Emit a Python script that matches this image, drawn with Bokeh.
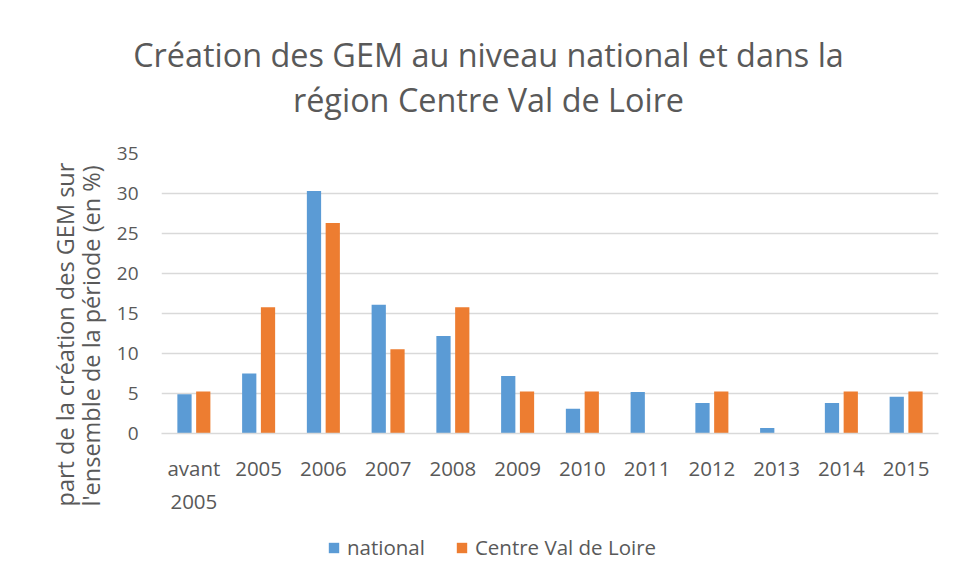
from bokeh.plotting import figure
from bokeh.layouts import column, row
from bokeh.models import Range1d, FixedTicker, Legend, LegendItem, ColumnDataSource, Label, Title
from bokeh.embed import file_html
from bokeh.resources import INLINE

categories = ["avant\n2005", "2005", "2006", "2007", "2008", "2009", "2010",
              "2011", "2012", "2013", "2014", "2015"]
national = [4.9, 7.5, 30.3, 16.1, 12.2, 7.2, 3.1, 5.2, 3.8, 0.7, 3.8, 4.6]
centre_val_de_loire = [5.26, 15.79, 26.32, 10.53, 15.79, 5.26, 5.26, 0.0, 5.26, 0.0, 5.26, 5.26]
y_ticks = [0, 5, 10, 15, 20, 25, 30, 35]
series_names = ["national", "Centre Val de Loire"]
title_lines = ["Création des GEM au niveau national et dans la", "région Centre Val de Loire"]
y_title_lines = ["part de la création des GEM sur", "l'ensemble de la période (en %)"]

BLUE = "#5B9BD5"
ORANGE = "#ED7D31"
TXT = "#595959"
GRID = "#D9D9D9"
FONT = "Open Sans"


def blank(w, h, left=0, right=0, top=0, bottom=0):
    f = figure(width=w, height=h, output_backend="svg", toolbar_location=None,
               x_range=Range1d(0, 1), y_range=Range1d(100, 101),
               x_axis_location=None, y_axis_location=None,
               min_border=0, min_border_left=left, min_border_right=right,
               min_border_top=top, min_border_bottom=bottom)
    f.xgrid.visible = False
    f.ygrid.visible = False
    f.outline_line_color = None
    f.background_fill_color = "white"
    f.border_fill_color = "white"
    return f


idx = list(range(len(categories)))
src = ColumnDataSource(dict(
    xn=[i - 0.145 for i in idx], xc=[i + 0.145 for i in idx],
    n=national, c=centre_val_de_loire))

# ---------------- title strip ----------------
title_fig = blank(948, 135)
for t, yy in zip(title_lines, [82, 37]):
    title_fig.add_layout(Label(x=488, y=yy, x_units="screen", y_units="screen", text=t,
                               text_align="center", text_baseline="alphabetic",
                               text_font=FONT, text_font_size="32.4px", text_color=TXT))

# ---------------- y-axis title strip ----------------
ytitle_fig = blank(110, 390, left=107, bottom=6)
ytitle_fig.add_layout(Title(text="\n".join(y_title_lines), align="left", offset=-73,
                            vertical_align="bottom", standoff=0,
                            text_font=FONT, text_font_size="23.5px",
                            text_font_style="normal", text_color=TXT,
                            text_line_height=0.83), "left")

# ---------------- main chart ----------------
p = figure(width=838, height=390, output_backend="svg", toolbar_location=None,
           x_range=Range1d(-0.5, len(categories) - 0.5), y_range=Range1d(0, 35),
           min_border_left=51, min_border_right=10, min_border_top=18, min_border_bottom=92)
p.outline_line_color = None
p.background_fill_color = "white"
p.border_fill_color = "white"

p.vbar(x="xn", top="n", bottom=0, width=0.22, source=src, fill_color=BLUE, line_color=None)
p.vbar(x="xc", top="c", bottom=0, width=0.22, source=src, fill_color=ORANGE, line_color=None)

p.yaxis.ticker = FixedTicker(ticks=y_ticks)
p.yaxis.axis_line_color = None
p.yaxis.major_tick_line_color = None
p.yaxis.major_tick_out = 0
p.yaxis.minor_tick_line_color = None
p.yaxis.major_label_text_font = FONT
p.yaxis.major_label_text_font_size = "19px"
p.yaxis.major_label_text_color = TXT
p.yaxis.major_label_standoff = 23

p.xaxis.ticker = FixedTicker(ticks=idx)
p.xaxis.major_label_overrides = {i: c for i, c in enumerate(categories)}
p.xaxis.axis_line_color = GRID
p.xaxis.axis_line_width = 1.5
p.xaxis.major_tick_line_color = None
p.xaxis.minor_tick_line_color = None
p.xaxis.major_label_text_font = FONT
p.xaxis.major_label_text_font_size = "20.5px"
p.xaxis.major_label_text_color = TXT
p.xaxis.major_label_standoff = 14

p.xgrid.grid_line_color = None
p.ygrid.grid_line_color = GRID
p.ygrid.grid_line_width = 1.3

# ---------------- legend strip ----------------
legend_fig = blank(948, 48)
lr1 = legend_fig.vbar(x="xn", top="n", bottom=0, width=0.22, source=src, fill_color=BLUE, line_color=None)
lr2 = legend_fig.vbar(x="xc", top="c", bottom=0, width=0.22, source=src, fill_color=ORANGE, line_color=None)
legend = Legend(items=[LegendItem(label=series_names[0], renderers=[lr1]),
                       LegendItem(label=series_names[1], renderers=[lr2])],
                orientation="horizontal", location=(327, 12),
                glyph_width=13, glyph_height=13, label_standoff=7, spacing=30,
                padding=0, margin=0, border_line_color=None, background_fill_alpha=0,
                label_text_font=FONT, label_text_font_size="20.5px", label_text_color=TXT,
                label_height=20)
legend_fig.add_layout(legend)

layout = column(title_fig, row(ytitle_fig, p), legend_fig)

open("out.html", "w").write(file_html(layout, INLINE))
